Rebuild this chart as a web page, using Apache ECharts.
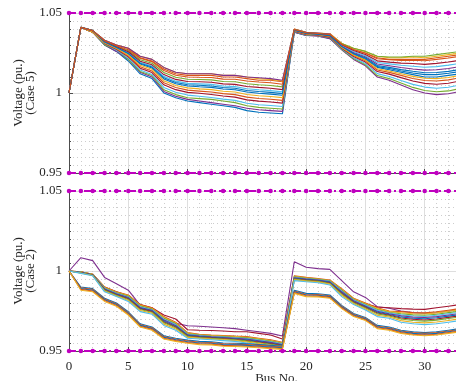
<!DOCTYPE html>
<html><head><meta charset="utf-8">
<script src="https://cdn.jsdelivr.net/npm/echarts@6/dist/echarts.min.js"></script>
<style>html,body{margin:0;padding:0;background:#fff}#c{width:456px;height:381px}</style>
</head><body><div id="c"></div>
<script>
// ---------- data ----------
const buses = [0,1,2,3,4,5,6,7,8,9,10,11,12,13,14,15,16,17,18,19,20,21,22,23,24,25,26,27,28,29,30,31,32,33];
const voltageLimits = [1.05, 0.95];
const yTicks = [0.95, 1, 1.05];
const xTicks = [0, 5, 10, 15, 20, 25, 30];
const yNameCase5 = 'Voltage (pu.)\n(Case 5)';
const yNameCase2 = 'Voltage (pu.)\n(Case 2)';
const xName = 'Bus No.';
const blue='#0072BD', orange='#D95319', yellow='#EDB120', purple='#7E2F8E', green='#77AC30', cyan='#4DBEEE', red='#A2142F';

// Case 5 profiles
const c5L1  = [1.000,1.041,1.038,1.030,1.026,1.020,1.012,1.009,1.000,0.997,0.995,0.994,0.993,0.992,0.991,0.989,0.988,0.9875,0.987,1.038,1.036,1.036,1.034,1.029,1.024,1.021,1.016,1.0145,1.013,1.0115,1.010,1.010,1.011,1.012];
const c5L2  = [1.000,1.041,1.039,1.033,1.030,1.028,1.022,1.020,1.015,1.012,1.011,1.011,1.011,1.010,1.010,1.009,1.008,1.008,1.007,1.040,1.038,1.037,1.037,1.031,1.027,1.025,1.022,1.021,1.021,1.021,1.021,1.022,1.023,1.024];
const c5L3  = [1.000,1.041,1.039,1.033,1.030,1.028,1.023,1.021,1.016,1.013,1.012,1.012,1.012,1.011,1.011,1.010,1.009,1.0085,1.0075,1.040,1.038,1.0375,1.037,1.031,1.028,1.026,1.023,1.022,1.022,1.0225,1.022,1.023,1.024,1.025];
const c5L4  = [1.000,1.041,1.038,1.030,1.026,1.021,1.013,1.010,1.001,0.998,0.996,0.995,0.994,0.993,0.992,0.9905,0.9895,0.989,0.9885,1.038,1.036,1.0355,1.034,1.027,1.021,1.017,1.010,1.008,1.005,1.002,1.000,0.999,0.9995,1.001];
const c5L5  = [1.000,1.041,1.038,1.030,1.027,1.021,1.0135,1.011,1.002,0.999,0.997,0.9965,0.996,0.995,0.994,0.992,0.991,0.9905,0.990,1.0383,1.0363,1.0358,1.0345,1.0273,1.0215,1.0176,1.0109,1.009,1.0062,1.0035,1.0016,1.0008,1.0013,1.0028];
const c5L6  = [1.000,1.041,1.038,1.0307,1.0269,1.0218,1.0144,1.0116,1.0035,1.0005,0.9987,0.998,0.9972,0.9962,0.9954,0.9936,0.9927,0.9922,0.9916,1.0385,1.0365,1.036,1.0348,1.0276,1.0221,1.0184,1.0121,1.0103,1.0078,1.0054,1.0037,1.003,1.0036,1.005];
const c5L7  = [1.000,1.041,1.038,1.031,1.0273,1.0226,1.0155,1.0128,1.0051,1.0021,1.0004,0.9998,0.9991,0.9981,0.9974,0.9957,0.9949,0.9944,0.9937,1.0386,1.0366,1.0361,1.0349,1.028,1.0228,1.0193,1.0134,1.0118,1.0096,1.0075,1.006,1.0055,1.0061,1.0075];
const c5L8  = [1.000,1.041,1.039,1.0317,1.0282,1.0244,1.0181,1.0156,1.0088,1.0058,1.0044,1.0039,1.0035,1.0025,1.002,1.0006,0.9998,0.9993,0.9986,1.039,1.037,1.0365,1.0355,1.0292,1.0249,1.022,1.0172,1.016,1.0146,1.0136,1.0127,1.0128,1.0135,1.0148];
const c5L9  = [1.000,1.041,1.038,1.0312,1.0276,1.0232,1.0164,1.0138,1.0064,1.0034,1.0018,1.0012,1.0006,0.9996,0.999,0.9974,0.9966,0.9961,0.9954,1.0388,1.0368,1.0363,1.0352,1.0284,1.0234,1.0201,1.0144,1.0129,1.011,1.0091,1.0078,1.0075,1.0082,1.0095];
const c5L10 = [1.000,1.041,1.038,1.0314,1.0279,1.0238,1.0173,1.0148,1.0077,1.0047,1.0032,1.0026,1.0021,1.0011,1.0006,0.9991,0.9983,0.9978,0.9971,1.0391,1.0371,1.0366,1.0357,1.0286,1.0238,1.0206,1.0152,1.0138,1.012,1.0104,1.0092,1.009,1.0097,1.011];
const c5L11 = [1.000,1.041,1.039,1.033,1.030,1.028,1.023,1.021,1.016,1.013,1.012,1.012,1.012,1.011,1.011,1.010,1.0095,1.009,1.008,1.0399,1.0379,1.0374,1.0369,1.0295,1.0253,1.0226,1.0181,1.017,1.0159,1.015,1.0143,1.0145,1.0153,1.0165];
const c5L12 = [1.000,1.041,1.039,1.0324,1.0292,1.0264,1.0208,1.0186,1.0128,1.0098,1.0086,1.0084,1.0082,1.0072,1.007,1.0058,1.0052,1.0047,1.0038,1.0396,1.0376,1.0371,1.0364,1.031,1.028,1.026,1.023,1.0225,1.0225,1.023,1.023,1.024,1.025,1.026];
const c5L13 = [1.000,1.041,1.039,1.032,1.0286,1.0252,1.0192,1.0168,1.0104,1.0074,1.006,1.0057,1.0054,1.0044,1.004,1.0027,1.002,1.0015,1.0007,1.0393,1.0373,1.0368,1.036,1.0298,1.0259,1.0233,1.0191,1.0182,1.0173,1.0167,1.0161,1.0165,1.0174,1.0185];
const c5L14 = [1.000,1.041,1.039,1.0322,1.0289,1.0258,1.0199,1.0176,1.0115,1.0085,1.0072,1.007,1.0067,1.0057,1.0054,1.0041,1.0035,1.003,1.0021,1.0394,1.0374,1.0369,1.0361,1.0301,1.0265,1.024,1.0201,1.0193,1.0187,1.0184,1.0179,1.0185,1.0194,1.0205];
const c5L15 = [1.000,1.041,1.039,1.0318,1.0284,1.0248,1.0186,1.0162,1.0096,1.0066,1.0052,1.0048,1.0044,1.0034,1.003,1.0016,1.0009,1.0004,0.9996,1.0392,1.0372,1.0367,1.0358,1.029,1.0245,1.0215,1.0165,1.0153,1.0138,1.0125,1.0115,1.0115,1.0123,1.0135];
const c5L16 = [1.000,1.041,1.039,1.0326,1.0295,1.027,1.0217,1.0196,1.0141,1.0111,1.01,1.0098,1.0097,1.0087,1.0086,1.0075,1.0069,1.0064,1.0055,1.0397,1.0377,1.0372,1.0366,1.0305,1.0272,1.0249,1.0214,1.0208,1.0204,1.0205,1.0202,1.021,1.0219,1.023];

// Case 2 profiles
const c2L1  = [1.000,1.0083,1.0065,0.996,0.992,0.988,0.9787,0.9765,0.9694,0.9673,0.9658,0.9655,0.965,0.9645,0.964,0.963,0.962,0.961,0.9594,1.0058,1.0023,1.0015,1.001,0.994,0.987,0.9835,0.9777,0.9767,0.975,0.974,0.9735,0.974,0.975,0.976];
const c2L2  = [1.000,0.9995,0.998,0.990,0.987,0.9845,0.979,0.977,0.9725,0.970,0.9633,0.963,0.9628,0.9625,0.962,0.962,0.961,0.960,0.9575,0.996,0.995,0.9945,0.994,0.988,0.982,0.9795,0.9775,0.977,0.9765,0.9762,0.976,0.977,0.978,0.979];
const c2L3  = [1.000,0.9995,0.998,0.990,0.987,0.985,0.979,0.977,0.9715,0.968,0.9615,0.9605,0.960,0.9597,0.9593,0.959,0.958,0.957,0.9555,0.997,0.996,0.9953,0.9944,0.989,0.983,0.980,0.977,0.975,0.9746,0.974,0.9738,0.9745,0.9755,0.9765];
const c2L4  = [1.000,0.9994,0.9979,0.9897,0.9867,0.9846,0.9786,0.9766,0.971,0.9675,0.9612,0.9602,0.9597,0.9594,0.959,0.9586,0.9576,0.9566,0.9552,0.9967,0.9957,0.995,0.9941,0.9885,0.9826,0.9796,0.9765,0.9746,0.9739,0.9733,0.9731,0.9738,0.9748,0.9758];
const c2L5  = [1.000,0.9993,0.9978,0.9894,0.9864,0.9842,0.9781,0.9762,0.9704,0.967,0.9608,0.9599,0.9594,0.9591,0.9586,0.9582,0.9572,0.9562,0.9548,0.9964,0.9955,0.9948,0.9938,0.988,0.9822,0.9791,0.9759,0.9741,0.9733,0.9726,0.9723,0.973,0.974,0.975];
const c2L6  = [1.000,0.9992,0.9977,0.9891,0.9861,0.9838,0.9777,0.9758,0.9699,0.9665,0.9605,0.9596,0.9591,0.9587,0.9583,0.9578,0.9568,0.9558,0.9545,0.9961,0.9952,0.9945,0.9935,0.9875,0.9818,0.9787,0.9754,0.9737,0.9726,0.9719,0.9716,0.9723,0.9733,0.9743];
const c2L7  = [1.000,0.9991,0.9976,0.9888,0.9858,0.9834,0.9772,0.9754,0.9693,0.966,0.9601,0.9593,0.9588,0.9584,0.958,0.9574,0.9564,0.9554,0.9541,0.9958,0.9949,0.9943,0.9932,0.987,0.9814,0.9782,0.9748,0.9732,0.972,0.9712,0.9709,0.9715,0.9725,0.9735];
const c2L8  = [1.000,0.999,0.9975,0.9885,0.9855,0.983,0.9768,0.975,0.9688,0.9655,0.9598,0.959,0.9585,0.9581,0.9577,0.957,0.956,0.955,0.9538,0.9955,0.9947,0.994,0.9929,0.9865,0.981,0.9778,0.9743,0.9728,0.9713,0.9705,0.9702,0.9708,0.9718,0.9728];
const c2L9  = [1.000,0.9989,0.9974,0.9882,0.9852,0.9826,0.9764,0.9746,0.9682,0.965,0.9594,0.9587,0.9582,0.9578,0.9573,0.9566,0.9556,0.9546,0.9534,0.9952,0.9944,0.9937,0.9925,0.986,0.9806,0.9774,0.9737,0.9723,0.9706,0.9698,0.9694,0.97,0.971,0.972];
const c2L10 = [1.000,0.9988,0.9973,0.9879,0.9849,0.9822,0.9759,0.9742,0.9677,0.9645,0.9591,0.9584,0.9579,0.9575,0.957,0.9562,0.9552,0.9542,0.9531,0.9949,0.9941,0.9935,0.9922,0.9855,0.9802,0.9769,0.9732,0.9719,0.97,0.9691,0.9687,0.9693,0.9703,0.9713];
const c2L11 = [1.000,0.9987,0.9972,0.9874,0.9844,0.9816,0.9753,0.9736,0.9668,0.9638,0.9585,0.958,0.9575,0.957,0.9565,0.9556,0.9546,0.9536,0.9525,0.9945,0.9937,0.9931,0.9918,0.9848,0.9796,0.9763,0.9723,0.9712,0.969,0.968,0.9676,0.9681,0.9691,0.9701];
const c2L12 = [1.000,0.9985,0.997,0.987,0.984,0.981,0.9746,0.973,0.966,0.963,0.958,0.9575,0.957,0.9565,0.956,0.955,0.954,0.953,0.952,0.994,0.9933,0.9927,0.9913,0.984,0.979,0.9756,0.9715,0.9705,0.968,0.967,0.9665,0.967,0.968,0.969];
const c2L13 = [1.000,0.990,0.989,0.983,0.980,0.9745,0.967,0.965,0.9595,0.958,0.9568,0.956,0.9558,0.955,0.9548,0.9545,0.954,0.9535,0.953,0.988,0.986,0.9858,0.985,0.9785,0.9735,0.971,0.966,0.965,0.963,0.962,0.9615,0.962,0.963,0.964];
const c2L14 = [1.000,0.9895,0.9885,0.9825,0.9795,0.974,0.9665,0.9645,0.959,0.9575,0.9563,0.9555,0.9553,0.9545,0.9543,0.954,0.9535,0.953,0.9525,0.9875,0.9855,0.9853,0.9845,0.978,0.973,0.9705,0.9655,0.9645,0.9625,0.9615,0.961,0.9615,0.9625,0.9635];
const c2L15 = [1.000,0.989,0.988,0.982,0.979,0.9735,0.966,0.964,0.9585,0.957,0.9558,0.955,0.9548,0.954,0.9538,0.9535,0.953,0.9525,0.952,0.987,0.985,0.9848,0.984,0.9775,0.9725,0.970,0.965,0.964,0.962,0.961,0.9605,0.961,0.962,0.963];
const c2L16 = [1.000,0.9885,0.9875,0.9815,0.9785,0.973,0.9655,0.9635,0.958,0.9565,0.9553,0.9545,0.9543,0.9535,0.9533,0.953,0.9525,0.952,0.9515,0.9865,0.9845,0.9843,0.9835,0.977,0.972,0.9695,0.9645,0.9635,0.9615,0.9605,0.960,0.9605,0.9615,0.9625];
const c2L17 = [1.000,0.988,0.987,0.981,0.978,0.9725,0.965,0.963,0.9575,0.956,0.9548,0.954,0.9538,0.953,0.9528,0.9525,0.952,0.9515,0.951,0.986,0.984,0.9838,0.983,0.9765,0.9715,0.969,0.964,0.963,0.961,0.960,0.9595,0.960,0.961,0.962];

const case5Lines = [c5L1,c5L2,c5L3,c5L4,c5L5,c5L6,c5L7,c5L8,c5L9,c5L10,c5L11,c5L12,c5L13,c5L14,c5L15,c5L16];
const case5Colors = [blue,orange,yellow,purple,green,cyan,red,blue,orange,yellow,purple,green,cyan,red,blue,orange];
const case2Lines = [c2L1,c2L2,c2L3,c2L4,c2L5,c2L6,c2L7,c2L8,c2L9,c2L10,c2L11,c2L12,c2L13,c2L14,c2L15,c2L16,c2L17];
const case2Colors = [purple,red,orange,yellow,green,cyan,purple,blue,red,green,yellow,cyan,blue,orange,blue,orange,yellow];

// ---------- chart ----------
const FONT = '"Liberation Serif","Times New Roman",serif';
const TXT = '#262626';
const chart = echarts.init(document.getElementById('c'), null, {renderer:'canvas'});

function xAxisCfg(gi, showLabels){
  return {
    type:'value', gridIndex:gi, min:0, max:35, interval:5,
    axisLine:{show:true, onZero:false, lineStyle:{color:'#4d4d4d', width:1}},
    axisTick:{show:true, inside:true, length:4, lineStyle:{color:'#4d4d4d'}},
    minorTick:{show:true, splitNumber:5, length:2, lineStyle:{color:'#4d4d4d'}},
    axisLabel:{show:showLabels, fontFamily:FONT, fontSize:13, color:TXT, margin:9,
      formatter:v => xTicks.indexOf(v) >= 0 ? String(v) : ''},
    splitLine:{show:true, lineStyle:{color:'#dedede', width:1}},
    minorSplitLine:{show:true, lineStyle:{color:'#cdcdcd', width:1, type:[1,3]}},
    name: showLabels ? xName : '', nameLocation:'middle', nameGap:21, nameMoveOverlap:false,
    nameTextStyle:{fontFamily:FONT, fontSize:13, color:TXT}
  };
}
function yAxisCfg(gi, name){
  return {
    type:'value', gridIndex:gi, min:0.95, max:1.05, interval:0.05,
    axisLine:{show:true, lineStyle:{color:'#4d4d4d', width:1}},
    axisTick:{show:true, inside:true, length:4, lineStyle:{color:'#4d4d4d'}},
    minorTick:{show:true, splitNumber:10, length:2, lineStyle:{color:'#4d4d4d'}},
    axisLabel:{fontFamily:FONT, fontSize:13, color:TXT, margin:7,
      formatter:v => { const t = yTicks.find(k => Math.abs(k - v) < 1e-6); return t === undefined ? '' : String(t); }},
    splitLine:{show:true, lineStyle:{color:'#dedede', width:1}},
    minorSplitLine:{show:true, lineStyle:{color:'#cdcdcd', width:1, type:[1,3]}},
    name:name, nameLocation:'middle', nameGap:32, nameRotate:90, nameMoveOverlap:false,
    nameTextStyle:{fontFamily:FONT, fontSize:13, color:TXT, lineHeight:12}
  };
}

const series = [];
function addLines(lines, colors, gi){
  lines.forEach((arr, j) => {
    series.push({
      type:'line', xAxisIndex:gi, yAxisIndex:gi,
      data: buses.map((b, i) => [b, arr[i]]),
      showSymbol:false, symbol:'none', silent:true,
      lineStyle:{width:1.1, color:colors[j]}, itemStyle:{color:colors[j]}, z:2
    });
  });
}
addLines(case5Lines, case5Colors, 0);
addLines(case2Lines, case2Colors, 1);
[0,1].forEach(gi => {
  voltageLimits.forEach(lim => {
    series.push({
      type:'line', xAxisIndex:gi, yAxisIndex:gi,
      data: buses.map(b => [b, lim]),
      symbol:'circle', symbolSize:4.5, showSymbol:true, silent:true, clip:false,
      lineStyle:{width:2.2, color:'#BF00BF', type:[7,3,2,3]},
      itemStyle:{color:'#BF00BF'}, z:5
    });
  });
});

chart.setOption({
  animation:false,
  backgroundColor:'#ffffff',
  grid:[
    {left:69, right:-28, top:13, height:160, containLabel:false, outerBoundsMode:'none'},
    {left:69, right:-28, top:191, height:160, containLabel:false, outerBoundsMode:'none'}
  ],
  xAxis:[xAxisCfg(0,false), xAxisCfg(1,true)],
  yAxis:[yAxisCfg(0,yNameCase5), yAxisCfg(1,yNameCase2)],
  series:series
});
</script>
</body></html>
